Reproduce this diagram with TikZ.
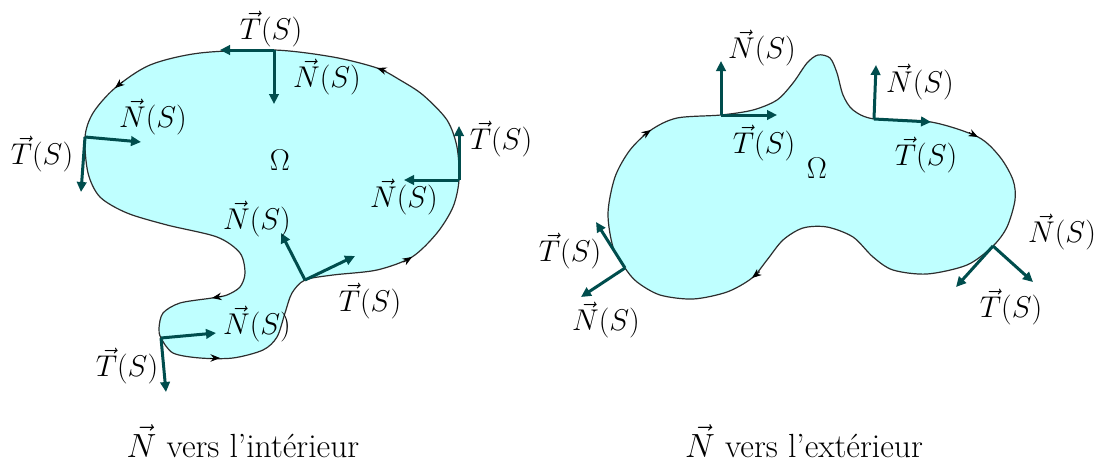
\RequirePackage{fix-cm}
\documentclass[tikz,border=0pt]{standalone}
\usepackage{fontspec}
\usetikzlibrary{arrows.meta}
\definecolor{vecc}{RGB}{0,77,77}
\definecolor{domfill}{RGB}{191,255,255}
\definecolor{edgec}{RGB}{45,45,45}
\begin{document}
\begin{tikzpicture}[x=1pt,y=-1pt,
  font=\fontsize{30}{36}\selectfont,
  dom/.style={fill=domfill,draw=edgec,line width=1.2pt},
  vecarrow/.style={draw=vecc,line width=3pt,-{Triangle[length=10pt,width=9.5pt]}},
  dirtip/.style={draw=black,line width=0.8pt,-{Stealth[length=9.5pt,width=7.5pt]}},
  lab/.style={inner sep=0pt},
  caption/.style={inner sep=0pt,font=\fontsize{33.5}{40}\selectfont}]
\useasboundingbox (0,0) rectangle (1099,463);

% ---------- left domain ----------
\draw[dom] plot[smooth cycle] coordinates {
 (274,50) (200,53) (150,65) (115,88) (93,113) (85,137) (88,173) (100,197)
 (127,213) (167,225) (217,237) (240,253) (245,273) (240,287) (227,295)
 (212,298) (180,303) (163,313) (159,328) (161,338) (173,353) (200,358)
 (233,358) (263,350) (277,337) (285,313) (292,293) (305,280) (333,275)
 (377,270) (412,257) (437,233) (453,207) (459,180) (457,147) (447,120)
 (423,95) (400,80) (377,68) (333,57)};

% direction marks (left)
\draw[dirtip] (386.4,71.2) -- (377,68);
\draw[dirtip] (122.7,81.6) -- (115,88);
\draw[dirtip] (221.9,296.3) -- (212,298);
\draw[dirtip] (210,358) -- (220,358);
\draw[dirtip] (403.5,262.2) -- (412,257);

% ---------- right domain ----------
\draw[dom] plot[smooth cycle] coordinates {
 (721,115) (753,110) (777,100) (793,83) (807,63) (818,55) (830,58) (837,73)
 (843,95) (853,110) (874,119) (931,122) (978,137) (1000,157) (1013,180)
 (1015,200) (1007,227) (993,246) (967,265) (927,274) (893,270) (873,257)
 (853,237) (827,227) (803,228) (783,240) (767,260) (752,278) (727,292)
 (693,299) (660,295) (637,282) (625,268) (613,247) (608,213) (615,177)
 (630,150) (651,130) (677,118)};

% direction marks (right)
\draw[dirtip] (642.8,135.6) -- (651,130);
\draw[dirtip] (969.1,132.5) -- (978,137);
\draw[dirtip] (759.8,271.7) -- (752,278);

% ---------- base points and tips ----------
\coordinate (A) at (274,50);  \coordinate (AT) at (220,50);  \coordinate (AN) at (274,104);
\coordinate (B) at (85,137);  \coordinate (BT) at (81,192);  \coordinate (BN) at (141,142);
\coordinate (C) at (459,180); \coordinate (CT) at (459,126); \coordinate (CN) at (404,180);
\coordinate (D) at (305,280); \coordinate (DT) at (355,256); \coordinate (DN) at (281,233);
\coordinate (E) at (161,338); \coordinate (ET) at (166,392); \coordinate (EN) at (216,333);
\coordinate (F) at (721,115); \coordinate (FT) at (777,115); \coordinate (FN) at (721,61);
\coordinate (G) at (874,119); \coordinate (GT) at (931,122); \coordinate (GN) at (876,65);
\coordinate (H) at (993,246); \coordinate (HT) at (956,287); \coordinate (HN) at (1033,282);
\coordinate (I) at (625,268); \coordinate (IT) at (596,222); \coordinate (IN) at (581,297);

\foreach \p in {A,B,C,D,E,F,G,H,I}{
  \draw[vecarrow] (\p) -- (\p T);
  \draw[vecarrow] (\p) -- (\p N);
}

% ---------- labels (left) ----------
\node[lab] (lAT) at (271,29)  {$\vec{T}(S)$};
\node[lab] (lAN) at (327,77)  {$\vec{N}(S)$};
\node[lab] (lBN) at (153,117) {$\vec{N}(S)$};
\node[lab] (lBT) at (42,154)  {$\vec{T}(S)$};
\node[lab] (om1) at (280,160) {$\Omega$};
\node[lab] (lCT) at (501,139) {$\vec{T}(S)$};
\node[lab] (lCN) at (404,197) {$\vec{N}(S)$};
\node[lab] (lDN) at (257,219) {$\vec{N}(S)$};
\node[lab] (lDT) at (370,301) {$\vec{T}(S)$};
\node[lab] (lEN) at (257,324) {$\vec{N}(S)$};
\node[lab] (lET) at (127,366) {$\vec{T}(S)$};

% ---------- labels (right) ----------
\node[lab] (lFN) at (762,48)   {$\vec{N}(S)$};
\node[lab] (lGN) at (920,82)   {$\vec{N}(S)$};
\node[lab] (lFT) at (764,143)  {$\vec{T}(S)$};
\node[lab] (om2) at (817,168)  {$\Omega$};
\node[lab] (lGT) at (926,155)  {$\vec{T}(S)$};
\node[lab] (lHN) at (1062,232) {$\vec{N}(S)$};
\node[lab] (lHT) at (1011,307) {$\vec{T}(S)$};
\node[lab] (lIT) at (570,251)  {$\vec{T}(S)$};
\node[lab] (lIN) at (606,320)  {$\vec{N}(S)$};

% ---------- captions ----------
\node[caption] (cap1) at (243,441) {$\vec{N}$ vers l’intérieur};
\node[caption] (cap2) at (804,441) {$\vec{N}$ vers l’extérieur};
\end{tikzpicture}
\end{document}
